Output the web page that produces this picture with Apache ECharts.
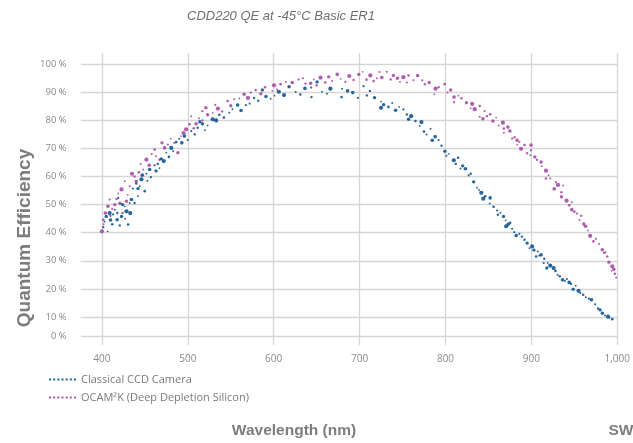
<!DOCTYPE html>
<html>
<head>
<meta charset="utf-8">
<script src="https://cdn.jsdelivr.net/npm/echarts@6/dist/echarts.min.js"></script>
<style>html,body{margin:0;padding:0;background:#fff}#c{width:633px;height:443px}</style>
</head>
<body>
<div id="c"></div>
<script>
// Wavelength (nm) and quantum efficiency (%)
const ccdWl = [401.5,405,406.6,409,412,415,417.7,419,420.8,422.8,426.6,428.6,430.5,432.4,434.4,436,438,442,442,446,449.8,451.8,455.6,461.4,465,469,475,480.7,486.5,490,496,504,511.5,517,523,529,
  536.7,548.3,558,567.6,577.2,586.8,596.5,606,617.8,625.5,636.3,643.6,644,650.5,656.3,666,679,679.5,692,704.6,708.5,717.4,
  725,725,733.6,738,742,751,755,757,770,772,775,782.6,784.6,792,795.4,799.3,804,809.7,814.7,817.4,823.2,827,829.4,832.8,836.7,841.7,846.3,851.5,852,860,861,867.6,870,870.6,875.3,877.6,882.3,886,892,895,897.7,900.8,905.5,907.4,911.3,914.3,915,918,919,925.9,928,930.5,936.3,941.3,946,948.7,951.7,954.9,960.3,963.4,970,974.2,977.7,982.6,985.7,989.2,994.2,
  403,410,413,418,424,427,433,440,444,447,453,457,463,467,472,478,483,493,500,508,514,520,533,542,552,562,572,582,591,601,612,631,662,686,698,712,
  728,746,760,765,778,788,801,812,820,839,844,856,864,873,880,889,903,909,922,933,939,944,957,967,980,991];
const ccdQe = [42,45.8,40.5,47,43,48.2,44.6,52.4,42.6,45.8,49.4,47.6,42.9,50.6,51.8,55.7,50.6,55.7,53,59,54.8,61,62.5,64,64.5,66.3,68.5,70.2,72.3,73.5,74.4,76.2,77.4,78.8,78.2,80.4,
  82,82.7,85.5,85.4,88,90.8,87.7,90.2,92,90.1,91.4,91.7,88.3,93.7,90.2,91.3,88.3,91.3,89.9,92.2,88.9,88.1,
  86.7,84.5,84.8,86.2,83.6,83.9,82.1,80.4,78,79.4,76,77,72.9,73,71,69,68.1,65.8,66.7,62.9,62.8,60.4,61,58.1,56,54.2,53,50.4,52.4,47.9,46.4,45.8,44.4,42.3,43.5,41.4,39,39.6,37.5,36.3,34.5,35.1,31.5,33.3,32.1,29.2,30.7,27.4,29.2,27.4,26.4,25,23.2,23.5,21.8,19.9,21.1,19.3,17.9,17,16.1,14.5,13,11.3,10.5,10.1,9.2,
  44,44.5,46.5,47,50,45,47,57.5,56.5,60.5,58.5,59.8,62,63,65.5,67,69,72,73,75,79.5,76.5,80,81,84,83.5,86,87,88.5,88.8,89,89.2,89.5,90.5,88,90.5,
  85.6,84.8,81.5,79.8,75,74.2,67.4,64.5,63.8,55.2,52.1,49.2,47,43,40.2,38.6,33.8,31.8,28.3,24.5,22.8,22.3,18.5,16.5,12.5,9.8];

const ocamWl = [400,401.5,402,407,409,410,415,419,422.8,424,426.6,428.6,432.4,438,440,448,451.8,461.4,463,473,476.8,484.5,488.4,492,498,502,504,509.7,517,517,523,529,535,546.3,554,565.6,573.4,579,585,598.4,600.4,608,614,621.6,629,637,643,646.7,654.5,660,668,674,683.4,693,699,703.5,712.5,716.3,
  723,725.8,731.6,736.2,739.4,747,751,757,762.6,767.6,773,776,781,787,788.4,799,802.3,810,810,818.6,824.4,829.4,831,839.8,839.8,843.6,845.5,848.3,855.2,859,866.8,868,868,872.6,877.6,880.4,883.4,883.4,888,892,899,899.6,899.6,906.6,911.3,912,917,917,922,926.6,928.5,935,935,937,941,944,947,947,953,958,961,966,968.4,972.2,978.8,982.6,984.5,988.4,990.3,993.4,994.2,997.3,998.8,
  404,412,417,421,430,435,443,445,455,458,467,470,480,495,507,513,521,532,540,550,560,570,590,604,618,634,650,664,678,688,708,720,
  744,755,792,806,815,834,852,862,875,886,895,904,920,931,950,956,963,975,986,996];
const ocamQe = [40.5,44.6,43,49.4,51.8,46,50,54,55.4,47,58.3,51.2,56.5,60,58.3,62.5,66,69.6,67.2,70.2,71.4,72,68.5,74.4,76.8,78.6,81.5,78.8,80,83.3,82,82.7,84.2,86.9,87.5,89.3,89.9,90.8,89.5,90.5,92.5,92.9,93.7,93.5,94.6,93.1,93.2,94.6,95.2,93.5,94,96.4,93.7,94.4,96.4,97.3,96,94,
  97.2,95.3,97.3,94.6,96,93.7,95.4,96,94.3,96,94.3,92.9,93.5,89.3,91.3,92.9,89.9,88.3,86.5,87.9,86.3,84.3,85.9,85.1,81.3,80.6,83.3,81.5,79.8,81,79.2,77.1,75.6,77.6,73.5,74,72.9,71.4,69.9,71.2,67.6,71.2,69.4,66,65.2,63.7,62.1,59.3,59.3,55.6,58,54.4,52.8,56.8,51.4,49.8,50.8,48.2,46.8,46,43.1,40.8,38.9,36.9,36,33.9,32.8,31.5,29.5,26.4,28,25.4,24,
  47,48.5,52,50.5,53.5,61,61.5,64.5,64,68,66,72,73.5,75.5,77.2,80.8,84.5,85.5,83.2,85.2,87.8,88,91.8,91,92,95,92.5,95.5,94.8,95.8,94.5,95,
  95,93.5,91.8,90.8,88.8,84,82.2,78.2,76.2,72.3,68.3,67,60.5,57,47.5,44.5,42.3,37.8,33,27];

const xTicks = [400,500,600,700,800,900,1000];
const yTickValues = [3.1,10,20,30,40,50,60,70,80,90,100];
const yTickLabels = ['0 %','10 %','20 %','30 %','40 %','50 %','60 %','70 %','80 %','90 %','100 %'];
const seriesNames = ['Classical CCD Camera','OCAM\u00B2K (Deep Depletion Silicon)'];

const sizes = [2.4,3.4,1.8,4.2,2.6,2,3.6,2.2];
const pairs = (a,b) => a.map((v,i)=>[v,b[i]]);
const dotIcon = 'path://M0,0h2v2h-2zM4,0h2v2h-2zM8,0h2v2h-2zM12,0h2v2h-2zM16,0h2v2h-2zM20,0h2v2h-2zM24,0h2v2h-2z';

const chart = echarts.init(document.getElementById('c'));
chart.setOption({
  animation:false,
  title:{text:'CDD220 QE at -45\u00B0C Basic ER1', left:182, top:5,
    textStyle:{fontFamily:'Liberation Sans', fontStyle:'italic', fontWeight:'normal', fontSize:13, color:'#6f6f6f'}},
  legend:{orient:'vertical', left:44, top:369, itemWidth:27, itemHeight:3, itemGap:7,
    textStyle:{fontFamily:'Open Sans', fontSize:11, color:'#7a7a7a'},
    data:[{name:seriesNames[0], icon:dotIcon},{name:seriesNames[1], icon:dotIcon}]},
  grid:{left:80.7, right:13, top:53, bottom:98},
  xAxis:{type:'value', min:375.3, max:1000,
    axisLine:{show:false}, axisTick:{show:false, customValues:xTicks},
    splitLine:{show:true, lineStyle:{color:'#d6d6d6', width:1.3}},
    axisLabel:{customValues:xTicks, margin:9, fontFamily:'Open Sans', fontSize:10, color:'#8a8a8a'}},
  yAxis:{type:'value', min:0, max:104,
    axisLine:{show:false}, axisTick:{show:false, customValues:yTickValues},
    splitLine:{show:true, lineStyle:{color:'#d6d6d6', width:1.3}},
    axisLabel:{customValues:yTickValues, margin:14, fontFamily:'Open Sans', fontSize:9.5, color:'#8a8a8a',
      padding:[0,0,6,0],
      formatter:v=>{const i=yTickValues.findIndex(t=>Math.abs(t-v)<0.01); return i>=0?yTickLabels[i]:'';}}},
  series:[
    {name:seriesNames[0], type:'scatter', data:pairs(ccdWl,ccdQe), symbol:'circle',
      symbolSize:(v,p)=>sizes[p.dataIndex%sizes.length], itemStyle:{color:'#1b5e97', opacity:0.95}, z:3},
    {name:seriesNames[1], type:'scatter', data:pairs(ocamWl,ocamQe), symbol:'circle',
      symbolSize:(v,p)=>sizes[(p.dataIndex+3)%sizes.length], itemStyle:{color:'#a64ca4', opacity:0.9}, z:2}
  ],
  graphic:[
    {type:'text', x:25, y:238, rotation:Math.PI/2,
      style:{text:'Quantum Efficiency', fontFamily:'Liberation Sans', fontWeight:'bold', fontSize:19, fill:'#7d7d7d', textAlign:'center', textVerticalAlign:'middle'}},
    {type:'text', x:294, y:431,
      style:{text:'Wavelength (nm)', fontFamily:'Liberation Sans', fontWeight:'bold', fontSize:15.5, fill:'#7d7d7d', textAlign:'center', textVerticalAlign:'middle'}},
    {type:'text', x:608.5, y:431,
      style:{text:'SWIR', fontFamily:'Liberation Sans', fontWeight:'bold', fontSize:15.5, fill:'#7d7d7d', textAlign:'left', textVerticalAlign:'middle'}}
  ]
});
</script>
</body>
</html>
